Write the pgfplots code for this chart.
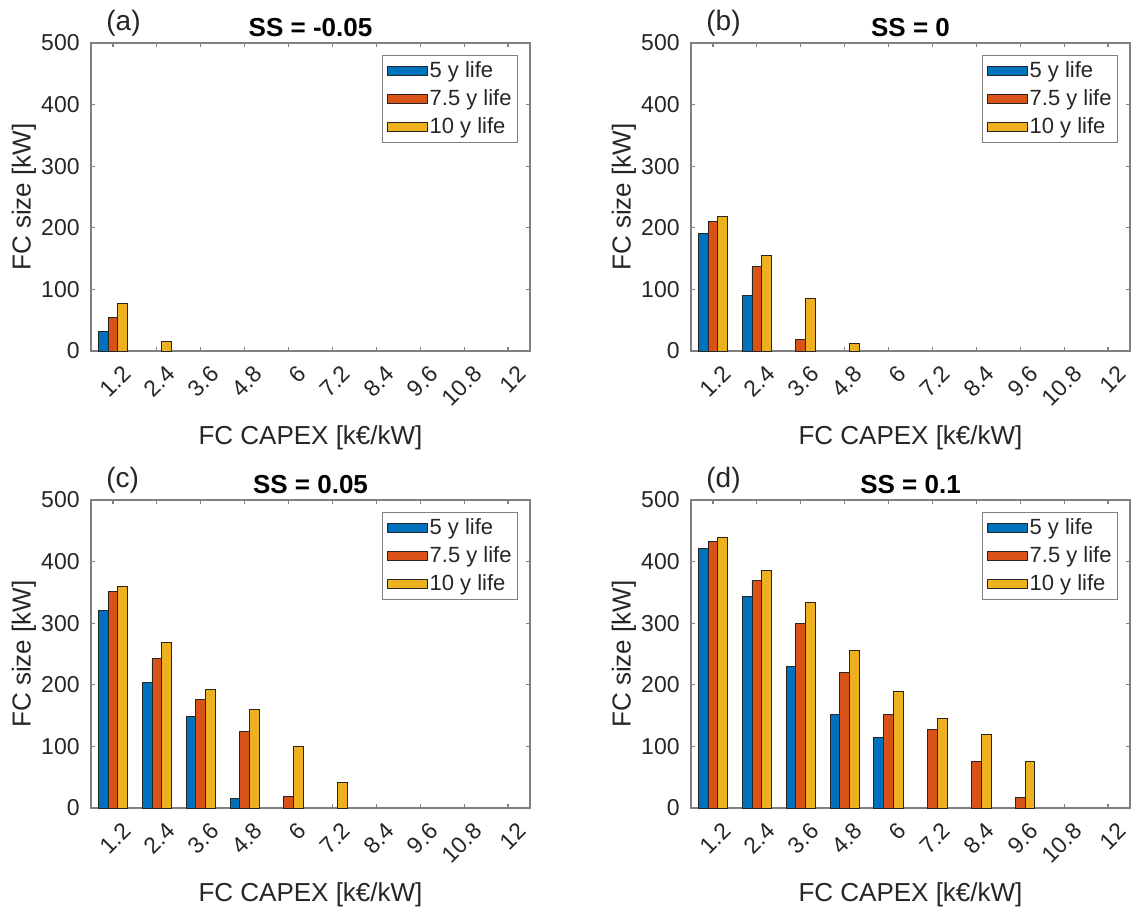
\documentclass[border=0pt]{standalone}
\usepackage{pgfplots}
\pgfplotsset{compat=1.18}
\usepackage{fontspec}
\setmainfont{Liberation Sans}
\definecolor{mb}{rgb}{0,0.447,0.741}
\definecolor{mr}{rgb}{0.85,0.325,0.098}
\definecolor{my}{rgb}{0.929,0.694,0.125}
\definecolor{axgray}{gray}{0.5}
\definecolor{txt}{gray}{0.15}
\pgfplotsset{
 every axis title shift=0pt,
 panel/.style={
  scale only axis, width=219.5pt, height=154pt, clip=false,
  xmin=0.5, xmax=10.5, ymin=0, ymax=500,
  xtick={1,...,10}, xticklabels={1.2,2.4,3.6,4.8,6,7.2,8.4,9.6,10.8,12},
  ytick={0,100,...,500},
  tick align=inside, major tick length=2.2pt,
  axis line style={draw=axgray, line width=0.6pt},
  tick style={draw=axgray, line width=0.6pt},
  /pgf/number format/assume math mode=true,
  ticklabel style={font=\fontsize{11.5}{13}\selectfont, text=txt},
  xticklabel style={inner sep=0pt, xshift=4pt, yshift=-6.5pt, rotate=45, anchor=north east},
  yticklabel style={inner sep=0pt, xshift=-5.5pt},
  xlabel={FC CAPEX [k€/kW]},
  ylabel={FC size [kW]},
  label style={font=\fontsize{13}{15}\selectfont, text=txt},
  xlabel style={at={(axis description cs:0.5,-0.2825)}, anchor=center},
  ylabel style={at={(axis description cs:-0.1526,0.5)}, anchor=center},
  title style={font=\bfseries\fontsize{13}{15}\selectfont, text=black, at={(axis description cs:0.5,1)}, anchor=base, yshift=3pt, inner sep=0pt},
  legend style={at={(axis description cs:1,1)}, anchor=north east, xshift=-6pt, yshift=-6pt,
    draw=axgray, fill=white, font=\fontsize{11}{13}\selectfont, text=txt,
    inner xsep=2pt, inner ysep=2pt, nodes={inner sep=1pt}, row sep=2.5pt},
  legend cell align=left,
 },
 bb/.style={ybar, bar width=0.222, draw=black!85, line width=0.45pt, fill=#1,
   legend image code/.code={\draw[##1] (0pt,-2.3pt) rectangle (20pt,2.3pt);}},
}
\tikzset{plab/.style={anchor=base west, font=\fontsize{14}{16}\selectfont, text=txt, inner sep=0pt, xshift=7.5pt, yshift=6pt}}
\begin{document}
\begin{tikzpicture}
\useasboundingbox (0,0) rectangle (566pt,454.5pt);
% (a)
\begin{axis}[panel, at={(45.5pt,279pt)}, anchor=south west, title={SS = -0.05}]
\addplot[bb=mb, bar shift=-0.222] coordinates {(1,31)};
\addplot[bb=mr, bar shift=0] coordinates {(1,55)};
\addplot[bb=my, bar shift=0.222] coordinates {(1,77) (2,15)};
\legend{5 y life, 7.5 y life, 10 y life}
\node[plab] at (rel axis cs:0,1) {(a)};
\end{axis}
% (b)
\begin{axis}[panel, at={(345.5pt,279pt)}, anchor=south west, title={SS = 0}]
\addplot[bb=mb, bar shift=-0.222] coordinates {(1,190) (2,90)};
\addplot[bb=mr, bar shift=0] coordinates {(1,210) (2,137) (3,19)};
\addplot[bb=my, bar shift=0.222] coordinates {(1,219) (2,155) (3,85) (4,13)};
\legend{5 y life, 7.5 y life, 10 y life}
\node[plab] at (rel axis cs:0,1) {(b)};
\end{axis}
% (c)
\begin{axis}[panel, at={(45.5pt,50.5pt)}, anchor=south west, title={SS = 0.05}]
\addplot[bb=mb, bar shift=-0.222] coordinates {(1,320) (2,204) (3,149) (4,16)};
\addplot[bb=mr, bar shift=0] coordinates {(1,351) (2,243) (3,176) (4,124) (5,18)};
\addplot[bb=my, bar shift=0.222] coordinates {(1,360) (2,268) (3,192) (4,160) (5,100) (6,41)};
\legend{5 y life, 7.5 y life, 10 y life}
\node[plab] at (rel axis cs:0,1) {(c)};
\end{axis}
% (d)
\begin{axis}[panel, at={(345.5pt,50.5pt)}, anchor=south west, title={SS = 0.1}]
\addplot[bb=mb, bar shift=-0.222] coordinates {(1,421) (2,344) (3,230) (4,152) (5,114)};
\addplot[bb=mr, bar shift=0] coordinates {(1,433) (2,369) (3,299) (4,220) (5,152) (6,128) (7,76) (8,17)};
\addplot[bb=my, bar shift=0.222] coordinates {(1,440) (2,385) (3,333) (4,255) (5,190) (6,146) (7,119) (8,76)};
\legend{5 y life, 7.5 y life, 10 y life}
\node[plab] at (rel axis cs:0,1) {(d)};
\end{axis}
\end{tikzpicture}
\end{document}
